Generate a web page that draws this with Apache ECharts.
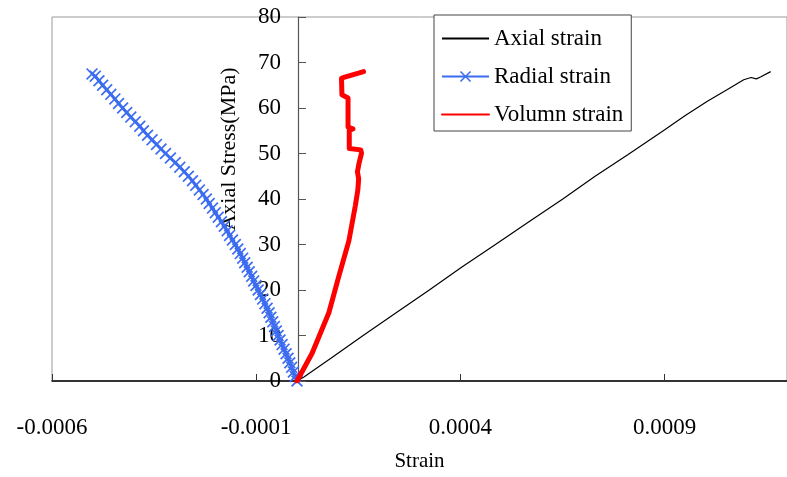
<!DOCTYPE html>
<html>
<head>
<meta charset="utf-8">
<script src="https://cdn.jsdelivr.net/npm/echarts@6/dist/echarts.min.js"></script>
<style>
  html, body { margin: 0; padding: 0; background: #fff; }
  #chart { width: 787px; height: 477px; }
</style>
</head>
<body>
<div id="chart"></div>
<script>
// axial strain (black)
const axialStrain = [0, 0.000017, 0.000083, 0.000162, 0.000249, 0.000324, 0.000403, 0.000486, 0.000568, 0.000651, 0.00073, 0.00081, 0.000897, 0.00095, 0.001005, 0.001053, 0.001094, 0.001112, 0.001125, 0.001135, 0.00116];
const axialStress = [0, 0.9, 5, 10, 15.4, 20, 25, 30, 35, 40, 45, 49.7, 55, 58.3, 61.5, 64, 66.2, 66.7, 66.4, 66.8, 68];

// radial strain (blue, x markers)
const radialStrain = [
  0, -0.0000044, -0.0000088, -0.0000132, -0.0000176, -0.000022, -0.0000268, -0.0000317, -0.0000366, -0.0000415,
  -0.0000463, -0.0000507, -0.0000551, -0.0000595, -0.0000639, -0.0000683, -0.0000732, -0.0000785, -0.0000841, -0.0000895,
  -0.0000951, -0.0001005, -0.000106, -0.000111, -0.000117, -0.000122, -0.000128, -0.000133, -0.000139, -0.000145,
  -0.000151, -0.000158, -0.000165, -0.000171, -0.000178, -0.000185, -0.000193, -0.0002, -0.000207, -0.000215,
  -0.000222, -0.00023, -0.000239, -0.000248, -0.000256, -0.000266, -0.000276, -0.000287, -0.000298, -0.00031,
  -0.000322, -0.000333, -0.000344, -0.000355, -0.000366, -0.000376, -0.000385, -0.000396, -0.000407, -0.000417,
  -0.000427, -0.000437, -0.000446, -0.000456, -0.000466, -0.000476, -0.000485, -0.000494, -0.000502
];
const radialStress = [
  0, 1, 2, 3, 4, 5, 6, 7, 8, 9,
  10, 11, 12, 13, 14, 15, 16, 17, 18, 19,
  20, 21, 22, 23, 24, 25, 26, 27, 28, 29,
  30, 31, 32, 33, 34, 35, 36, 37, 38, 39,
  40, 41, 42, 43, 44, 45, 46, 47, 48, 49,
  50, 51, 52, 53, 54, 55, 56, 57, 58, 59,
  60, 61, 62, 63, 64, 65, 66, 67, 67.5
];

// volumn strain (red)
const volStrain = [0, 0.000037, 0.000078, 0.000102, 0.000127, 0.000143, 0.000149, 0.000151, 0.000148, 0.000152, 0.000158, 0.000156, 0.000128, 0.000128, 0.000137, 0.000125, 0.000125, 0.00011, 0.000109, 0.000117, 0.000163];
const volStress = [0, 6.1, 15, 22.9, 30.8, 38.6, 42, 44.4, 46, 47.9, 50.1, 50.8, 51.1, 55.1, 55.4, 55.8, 62.2, 62.9, 66.5, 66.8, 68];

const seriesNames = ['Axial strain', 'Radial strain', 'Volumn strain'];
const FONT = '"Liberation Serif", "Times New Roman", serif';

const pairs = (xs, ys) => xs.map((x, i) => [x, ys[i]]);

// filled "x" shape for the radial markers
const xMark = 'path://M0,1L1,0L5,4L9,0L10,1L6,5L10,9L9,10L5,6L1,10L0,9L4,5Z';

const chart = echarts.init(document.getElementById('chart'));

chart.setOption({
  backgroundColor: '#fff',
  animation: false,
  grid: {
    left: 52,
    right: -3,
    top: 17,
    bottom: 87,
    show: true,
    borderColor: '#999',
    borderWidth: 1
  },
  legend: {
    orient: 'vertical',
    left: 434,
    top: 15,
    padding: [12, 8, 5, 7],
    itemGap: 15,
    itemWidth: 47,
    itemHeight: 14,
    backgroundColor: '#fff',
    borderColor: '#444',
    borderWidth: 1,
    textStyle: {fontFamily: FONT, fontSize: 23, color: '#000', lineHeight: 22},
    data: [
      {name: seriesNames[0], itemStyle: {opacity: 0}},
      {name: seriesNames[1]},
      {name: seriesNames[2], itemStyle: {opacity: 0}}
    ]
  },
  xAxis: {
    type: 'value',
    min: -0.0006,
    max: 0.0012,
    interval: 0.0005,
    name: 'Strain',
    nameLocation: 'middle',
    nameGap: 70,
    nameTextStyle: {fontFamily: FONT, fontSize: 21, color: '#000'},
    axisLine: {onZero: false, lineStyle: {color: '#000', width: 1.5}},
    axisTick: {inside: true, length: 7, lineStyle: {color: '#333'}},
    axisLabel: {
      margin: 35,
      fontFamily: FONT,
      fontSize: 23,
      color: '#000',
      showMaxLabel: false,
      formatter: v => v.toFixed(4)
    },
    splitLine: {show: false}
  },
  yAxis: {
    type: 'value',
    min: 0,
    max: 80,
    interval: 10,
    offset: -246,
    axisLine: {show: true, onZero: false, lineStyle: {color: '#555', width: 1.2}},
    axisTick: {show: true, inside: true, length: 8, lineStyle: {color: '#555'}},
    axisLabel: {margin: 17, fontFamily: FONT, fontSize: 23, color: '#000'},
    splitLine: {show: false}
  },
  graphic: [{
    type: 'text',
    x: 229,
    y: 149,
    rotation: Math.PI / 2,
    style: {
      text: 'Axial Stress(MPa)',
      font: '22px ' + FONT,
      fill: '#000',
      align: 'center',
      verticalAlign: 'middle'
    }
  }],
  series: [
    {
      name: seriesNames[0],
      type: 'line',
      data: pairs(axialStrain, axialStress),
      symbol: 'circle',
      showSymbol: false,
      lineStyle: {color: '#000', width: 1.2},
      itemStyle: {color: '#000'},
      z: 2
    },
    {
      name: seriesNames[1],
      type: 'line',
      data: pairs(radialStrain, radialStress),
      symbol: xMark,
      symbolSize: 12,
      showAllSymbol: true,
      lineStyle: {color: '#3c6cf0', width: 3},
      itemStyle: {color: '#3c6cf0'},
      z: 3
    },
    {
      name: seriesNames[2],
      type: 'line',
      data: pairs(volStrain, volStress),
      symbol: 'circle',
      showSymbol: false,
      lineStyle: {color: '#ff0000', width: 5, cap: 'round', join: 'round'},
      itemStyle: {color: '#ff0000'},
      z: 4
    }
  ]
});
</script>
</body>
</html>
